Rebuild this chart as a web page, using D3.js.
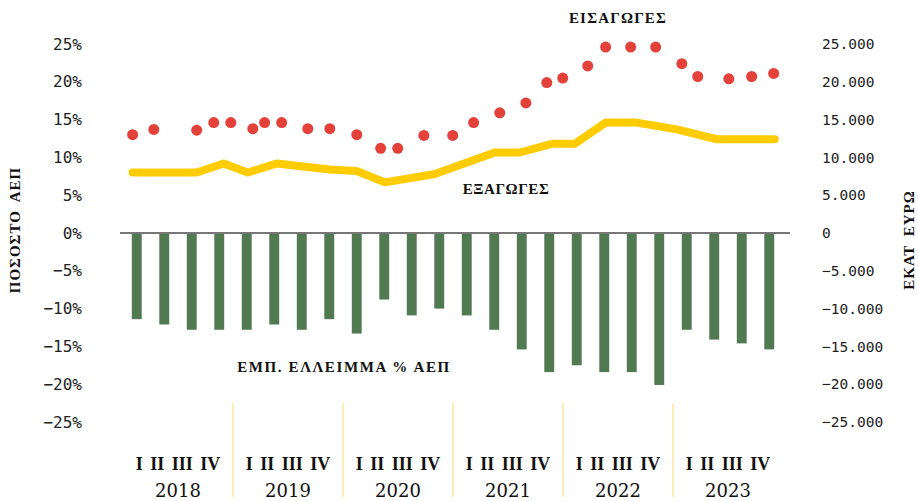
<!DOCTYPE html>
<html>
<head>
<meta charset="utf-8">
<script src="https://cdn.jsdelivr.net/npm/d3@7"></script>
<style>
  body { margin: 0; background: #fff; }
  .tick text { fill: #222; }
</style>
</head>
<body>
<script>
// chart data
var years = ["2018", "2019", "2020", "2021", "2022", "2023"];
var quarterLabel = "I II III IV";
var quarters = d3.range(24); // 2018 Q1 ... 2023 Q4

// trade deficit, % of GDP (bars, left axis)
var deficit = [-11.4, -12.1, -12.8, -12.8, -12.8, -12.1, -12.8, -11.4,
  -13.3, -8.8, -10.9, -10.0, -10.9, -12.8, -15.4, -18.4,
  -17.5, -18.4, -18.4, -20.1, -12.8, -14.1, -14.6, -15.4];

// imports, million euro (dots, right axis); position in quarters
var importsPos = [-0.15, 0.62, 2.18, 2.8, 3.42, 4.22, 4.65, 5.27, 6.22, 7.02,
  8.0, 8.87, 9.49, 10.44, 11.49, 12.25, 13.2, 14.15, 14.91, 15.49,
  16.4, 17.05, 17.96, 18.87, 19.82, 20.4, 21.53, 22.36, 23.16];
var importsVal = [13000, 13700, 13600, 14600, 14600, 13800, 14600, 14600, 13800, 13800,
  13000, 11200, 11200, 12900, 12900, 14600, 15900, 17200, 19900, 20500,
  22100, 24600, 24600, 24600, 22400, 20700, 20400, 20700, 21100];

// exports, million euro (line, right axis)
var exportsPos = [-0.15, 2.18, 3.16, 4.04, 5.09, 7.02, 8.0, 9.02, 10.84, 13.02,
  13.93, 15.09, 15.93, 17.05, 18.18, 19.64, 21.09, 23.2];
var exportsVal = [8000, 8000, 9200, 8000, 9200, 8400, 8200, 6700, 7800, 10650,
  10650, 11800, 11800, 14600, 14600, 13700, 12400, 12400];

var pctTicks = d3.range(-25, 26, 5);
var eurTicks = d3.range(-25000, 25001, 5000);

var w = 918, h = 501;
var plotL = 123, plotR = 783, plotT = 44, plotB = 422;

var svg = d3.select("body").append("svg")
    .attr("width", w)
    .attr("height", h);

var xBand = d3.scaleBand()
    .domain(quarters)
    .range([plotL, plotR])
    .paddingInner(0.64)
    .paddingOuter(0.32);

var xPos = d3.scaleLinear() // fractional quarter -> px, centred on bands
    .domain([-0.5, 23.5])
    .range([plotL, plotR]);

var xYear = d3.scaleBand()
    .domain(years)
    .range([plotL, plotR]);

var yPct = d3.scaleLinear().domain([-25, 25]).range([plotB, plotT]);
var yEur = d3.scaleLinear().domain([-25000, 25000]).range([plotB, plotT]);

var grLocale = d3.formatLocale({decimal: ",", thousands: ".", grouping: [3], currency: ["", "€"], minus: "\u2212"});
var fmtEur = grLocale.format(",");
var fmtPct = function(d) { return grLocale.format("d")(d) + "%"; };

// left axis
var yAxisL = d3.axisLeft(yPct).tickValues(pctTicks).tickFormat(fmtPct).tickSize(0).tickPadding(0);
var gL = svg.append("g")
    .attr("transform", "translate(82,0)")
    .call(yAxisL);
gL.select(".domain").remove();
gL.selectAll("text")
    .attr("font-family", "DejaVu Sans Mono")
    .attr("font-size", "16px");

// right axis
var yAxisR = d3.axisRight(yEur).tickValues(eurTicks).tickFormat(fmtEur).tickSize(0).tickPadding(0);
var gR = svg.append("g")
    .attr("transform", "translate(822,0)")
    .call(yAxisR);
gR.select(".domain").remove();
gR.selectAll("text")
    .attr("font-family", "DejaVu Sans Mono")
    .attr("font-size", "14.5px");

// axis titles
svg.append("text")
    .attr("transform", "translate(20," + 230 + ") rotate(-90)")
    .attr("text-anchor", "middle")
    .attr("font-family", "Liberation Serif")
    .attr("font-weight", "bold")
    .attr("font-size", "15px")
    .attr("letter-spacing", "1px")
    .attr("word-spacing", "4px")
    .attr("fill", "#111")
    .text("ΠΟΣΟΣΤΟ ΑΕΠ");

svg.append("text")
    .attr("transform", "translate(914," + 240 + ") rotate(-90)")
    .attr("text-anchor", "middle")
    .attr("font-family", "Liberation Serif")
    .attr("font-weight", "bold")
    .attr("font-size", "15px")
    .attr("letter-spacing", "1px")
    .attr("word-spacing", "4px")
    .attr("fill", "#111")
    .text("ΕΚΑΤ ΕΥΡΩ");

// bars
svg.selectAll("rect.bar")
    .data(deficit)
    .enter()
    .append("rect")
    .attr("class", "bar")
    .attr("x", function(d, i) { return xBand(i); })
    .attr("y", yPct(0))
    .attr("width", xBand.bandwidth())
    .attr("height", function(d) { return yPct(d) - yPct(0); })
    .attr("fill", "#517a52");

// zero line
svg.append("line")
    .attr("x1", plotL - 3)
    .attr("x2", plotR + 7)
    .attr("y1", yPct(0))
    .attr("y2", yPct(0))
    .attr("stroke", "#777")
    .attr("stroke-width", 2);

// exports line
var exportsData = exportsPos.map(function(p, i) { return [p, exportsVal[i]]; });
var line = d3.line()
    .x(function(d) { return xPos(d[0]); })
    .y(function(d) { return yEur(d[1]); });
svg.append("path")
    .datum(exportsData)
    .attr("d", line)
    .attr("fill", "none")
    .attr("stroke", "#ffcc00")
    .attr("stroke-width", 8)
    .attr("stroke-linejoin", "round")
    .attr("stroke-linecap", "round");

// imports dots
svg.selectAll("circle.imp")
    .data(importsPos)
    .enter()
    .append("circle")
    .attr("class", "imp")
    .attr("cx", function(d) { return xPos(d); })
    .attr("cy", function(d, i) { return yEur(importsVal[i]); })
    .attr("r", 5.5)
    .attr("fill", "#e5413b");

// series labels
function label(txt, x, y, ls) {
    svg.append("text")
        .attr("x", x)
        .attr("y", y)
        .attr("text-anchor", "middle")
        .attr("font-family", "Liberation Serif")
        .attr("font-weight", "bold")
        .attr("font-size", "15px")
        .attr("letter-spacing", ls)
        .attr("fill", "#111")
        .text(txt);
}
label("ΕΙΣΑΓΩΓΕΣ", 618, 23, "1.2px");
label("ΕΞΑΓΩΓΕΣ", 506, 194, "0.6px");
label("ΕΜΠ. ΕΛΛΕΙΜΜΑ % ΑΕΠ", 344, 372, "1.6px");

// year separators
svg.selectAll("line.sep")
    .data(years.slice(1))
    .enter()
    .append("line")
    .attr("class", "sep")
    .attr("x1", function(d) { return xYear(d); })
    .attr("x2", function(d) { return xYear(d); })
    .attr("y1", 403)
    .attr("y2", 497)
    .attr("stroke", "#fbe3a0")
    .attr("stroke-width", 1.5);

// quarter and year labels
svg.selectAll("text.qtr")
    .data(years)
    .enter()
    .append("text")
    .attr("class", "qtr")
    .attr("x", function(d) { return xYear(d) + xYear.bandwidth() / 2; })
    .attr("y", 470)
    .attr("text-anchor", "middle")
    .attr("font-family", "Liberation Serif")
    .attr("font-weight", "bold")
    .attr("font-size", "18px")
    .attr("word-spacing", "3px")
    .attr("fill", "#111")
    .text(quarterLabel);

svg.selectAll("text.year")
    .data(years)
    .enter()
    .append("text")
    .attr("class", "year")
    .attr("x", function(d) { return xYear(d) + xYear.bandwidth() / 2; })
    .attr("y", 497)
    .attr("text-anchor", "middle")
    .attr("font-family", "DejaVu Serif")
    .attr("font-size", "18px")
    .attr("fill", "#111")
    .text(function(d) { return d; });
</script>
</body>
</html>
